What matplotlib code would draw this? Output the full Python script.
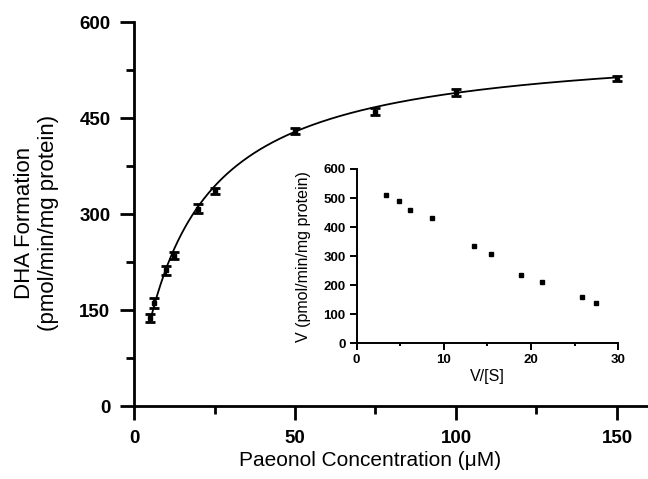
import numpy as np
import matplotlib
matplotlib.use("Agg")
import matplotlib.pyplot as plt
from matplotlib.ticker import MultipleLocator

plt.rcParams['font.family'] = ['Liberation Sans', 'DejaVu Sans']

# Main plot data (Michaelis-Menten)
conc = [5, 6.25, 10, 12.5, 20, 25, 50, 75, 100, 150]
rate = [137, 161, 212, 235, 308, 336, 430, 460, 490, 512]
err = [6, 8, 7, 5, 7, 5, 5, 6, 5, 4]
# Fitted kinetic parameters
vmax = 570.0
km = 16.5

# Inset (Eadie-Hofstee) data
vs_ratio = [3.4, 4.9, 6.1, 8.6, 13.4, 15.4, 18.8, 21.2, 25.8, 27.4]
v_inset = [512, 490, 460, 430, 336, 308, 235, 212, 161, 137]

fig = plt.figure(figsize=(6.48, 4.79), dpi=100)
ax = fig.add_axes([0.2068, 0.1524, 0.795, 0.8016])

xs = np.linspace(min(conc), max(conc), 400)
ax.plot(xs, vmax * xs / (km + xs), color='black', lw=1.3, zorder=2)
ax.errorbar(conc, rate, yerr=err, fmt='s', ms=3.5, color='black',
            ecolor='black', elinewidth=1.5, capsize=3.5, capthick=2, zorder=3)

ax.set_xlim(0, 160)
ax.set_ylim(0, 600)
ax.set_xticks([0, 50, 100, 150])
ax.set_yticks([0, 150, 300, 450, 600])
ax.xaxis.set_minor_locator(MultipleLocator(25))
ax.yaxis.set_minor_locator(MultipleLocator(75))
for s in ['top', 'right']:
    ax.spines[s].set_visible(False)
for s in ['left', 'bottom']:
    ax.spines[s].set_linewidth(2)
ax.tick_params(which='major', direction='out', length=10, width=2, pad=7,
               labelsize=13.5)
ax.tick_params(which='minor', direction='out', length=5.5, width=2)
for lab in ax.get_xticklabels() + ax.get_yticklabels():
    lab.set_fontweight('bold')
ax.set_xlabel('Paeonol Concentration (μM)', fontsize=15)
ax.xaxis.set_label_coords(0.458, -0.118)
ax.set_ylabel('DHA Formation\n(pmol/min/mg protein)', fontsize=16,
              linespacing=1.2)
ax.yaxis.set_label_coords(-0.145, 0.478)

# Inset
ins = fig.add_axes([0.5504, 0.2833, 0.4037, 0.3639])
ins.plot(vs_ratio, v_inset, 's', ms=2.8, color='black')
ins.set_xlim(0, 30)
ins.set_ylim(0, 600)
ins.set_xticks([0, 10, 20, 30])
ins.set_yticks([0, 100, 200, 300, 400, 500, 600])
ins.xaxis.set_minor_locator(MultipleLocator(5))
for s in ['top', 'right']:
    ins.spines[s].set_visible(False)
for s in ['left', 'bottom']:
    ins.spines[s].set_linewidth(1.4)
ins.tick_params(which='major', direction='out', length=5, width=1.4, pad=3,
                labelsize=9.5)
ins.tick_params(which='minor', direction='out', length=2.5, width=1.4)
for lab in ins.get_xticklabels() + ins.get_yticklabels():
    lab.set_fontweight('bold')
ins.set_xlabel('V/[S]', fontsize=11.5, labelpad=2)
ins.set_ylabel('V (pmol/min/mg protein)', fontsize=11.5, labelpad=9)

fig.savefig('out.png', dpi=100)
